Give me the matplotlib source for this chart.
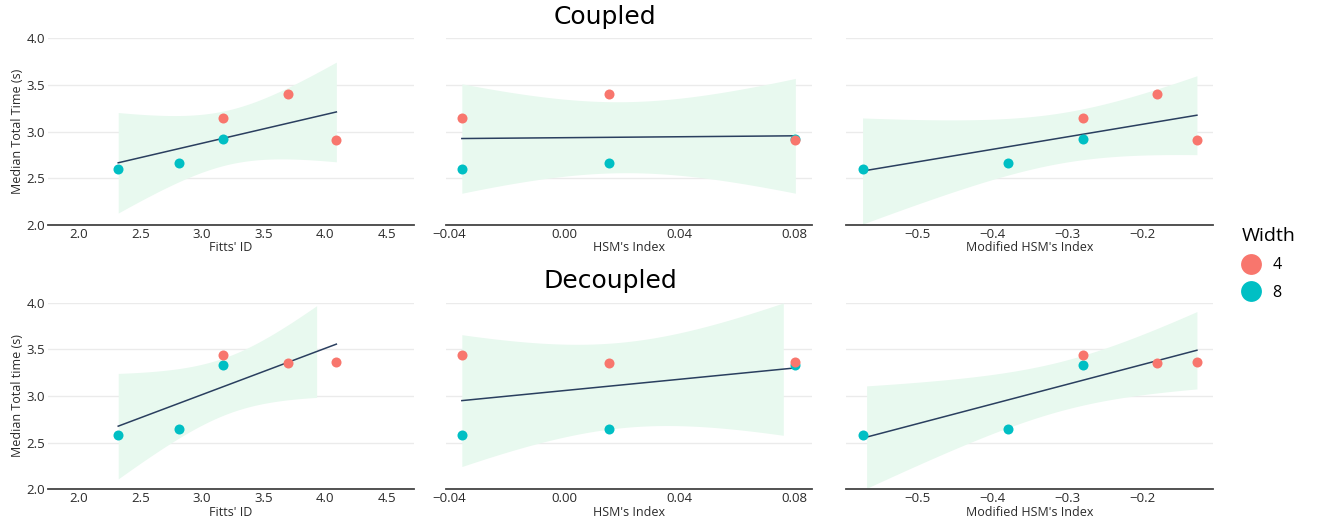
import numpy as np
import matplotlib
matplotlib.use("Agg")
import matplotlib.pyplot as plt
from matplotlib.lines import Line2D

# order of points: width 8 (three designs), then width 4 (three designs)
width = [8, 8, 8, 4, 4, 4]

fitts_id = [2.32, 2.81, 3.17, 3.17, 3.70, 4.09]
hsm_index = [-0.0357, 0.0154, 0.0803, -0.0357, 0.0154, 0.0803]
mod_hsm_index = [-0.573, -0.379, -0.280, -0.280, -0.181, -0.128]

coupled_time = [2.60, 2.66, 2.92, 3.15, 3.40, 2.91]
decoupled_time = [2.58, 2.645, 3.33, 3.44, 3.35, 3.365]

# x-extent of the confidence bands as drawn in the reference
band_range_coupled = [(2.32, 4.09), (-0.0357, 0.0803), (-0.573, -0.128)]
band_range_decoupled = [(2.32, 3.93), (-0.0357, 0.0761), (-0.5676, -0.128)]

x_labels = ["Fitts' ID", "HSM's Index", "Modified HSM's Index"]
x_ticks = [[2.0, 2.5, 3.0, 3.5, 4.0, 4.5],
           [-0.04, 0.0, 0.04, 0.08],
           [-0.5, -0.4, -0.3, -0.2]]
x_ticklabels = [["2.0", "2.5", "3.0", "3.5", "4.0", "4.5"],
                ["\u22120.04", "0.00", "0.04", "0.08"],
                ["\u22120.5", "\u22120.4", "\u22120.3", "\u22120.2"]]
x_limits = [(1.75, 4.72), (-0.0413, 0.086), (-0.595, -0.107)]
y_ticks = [2.0, 2.5, 3.0, 3.5, 4.0]

COLORS = {4: "#F8766D", 8: "#00BFC4"}
BAND = "#e8f9ef"
LINE = "#2a3f5f"
T_975_DF4 = 2.776  # t quantile for 95% CI with n=6

plt.rcParams["font.family"] = ["Open Sans", "DejaVu Sans"]

fig = plt.figure(figsize=(13.18, 5.22), dpi=100)

col_left = [0.0364, 0.3382, 0.6419]
col_w = [0.2777, 0.2777, 0.2782]
row_bottom = [0.569, 0.0626]
row_h = 0.3577

xs_all = [fitts_id, hsm_index, mod_hsm_index]


def draw_panel(ax, x, y, band_range, col, ylabel):
    x = np.array(x)
    y = np.array(y)
    n = len(x)
    slope, intercept = np.polyfit(x, y, 1)
    resid = y - (slope * x + intercept)
    s = np.sqrt(np.sum(resid ** 2) / (n - 2))
    sxx = np.sum((x - x.mean()) ** 2)

    bx = np.linspace(band_range[0], band_range[1], 100)
    se = s * np.sqrt(1 / n + (bx - x.mean()) ** 2 / sxx)
    by = slope * bx + intercept
    ax.fill_between(bx, by - T_975_DF4 * se, by + T_975_DF4 * se,
                    color=BAND, lw=0, zorder=1)

    lx = np.array([x.min(), x.max()])
    ax.plot(lx, slope * lx + intercept, color=LINE, lw=1.1, zorder=2)

    for w in (8, 4):
        m = np.array(width) == w
        ax.scatter(x[m], y[m], s=52, color=COLORS[w], lw=0, zorder=3)

    ax.set_xlim(*x_limits[col])
    ax.set_ylim(2.0, 4.0)
    ax.set_xticks(x_ticks[col])
    ax.set_xticklabels(x_ticklabels[col])
    ax.set_yticks(y_ticks)
    ax.grid(axis="y", color="#ebebeb", lw=1)
    ax.set_axisbelow(True)
    for sp in ("top", "right", "left"):
        ax.spines[sp].set_visible(False)
    ax.spines["bottom"].set_color("#444444")
    ax.spines["bottom"].set_linewidth(1.3)
    ax.spines["bottom"].set_zorder(4)
    ax.tick_params(length=0, pad=2, labelsize=9.5, colors="#2a2a2a")
    ax.set_xlabel(x_labels[col], fontsize=9, labelpad=0.5, color="#2a2a2a")
    if col == 0:
        ax.set_yticklabels(["2.0", "2.5", "3.0", "3.5", "4.0"])
        ax.set_ylabel(ylabel, fontsize=9, labelpad=2, color="#2a2a2a")
    else:
        ax.set_yticklabels([])


for col in range(3):
    ax = fig.add_axes([col_left[col], row_bottom[0], col_w[col], row_h])
    draw_panel(ax, xs_all[col], coupled_time, band_range_coupled[col], col,
               "Median Total Time (s)")
    ax = fig.add_axes([col_left[col], row_bottom[1], col_w[col], row_h])
    draw_panel(ax, xs_all[col], decoupled_time, band_range_decoupled[col], col,
               "Median Total time (s)")

fig.text(0.459, 0.967, "Coupled", ha="center", va="center", fontsize=18,
         family="DejaVu Sans")
fig.text(0.463, 0.462, "Decoupled", ha="center", va="center", fontsize=18,
         family="DejaVu Sans")

handles = [Line2D([], [], ls="", marker="o", ms=15, mec="none", color=COLORS[4]),
           Line2D([], [], ls="", marker="o", ms=15, mec="none", color=COLORS[8])]
leg = fig.legend(handles, ["4", "8"], title="Width", loc="upper left",
                 bbox_to_anchor=(0.937, 0.578), frameon=False, fontsize=11.5,
                 title_fontsize=14, handletextpad=0.75, labelspacing=0.72,
                 borderaxespad=0, handlelength=1.2)
leg._legend_box.align = "left"
leg._legend_box.sep = 9

fig.savefig("out.png", dpi=100)
